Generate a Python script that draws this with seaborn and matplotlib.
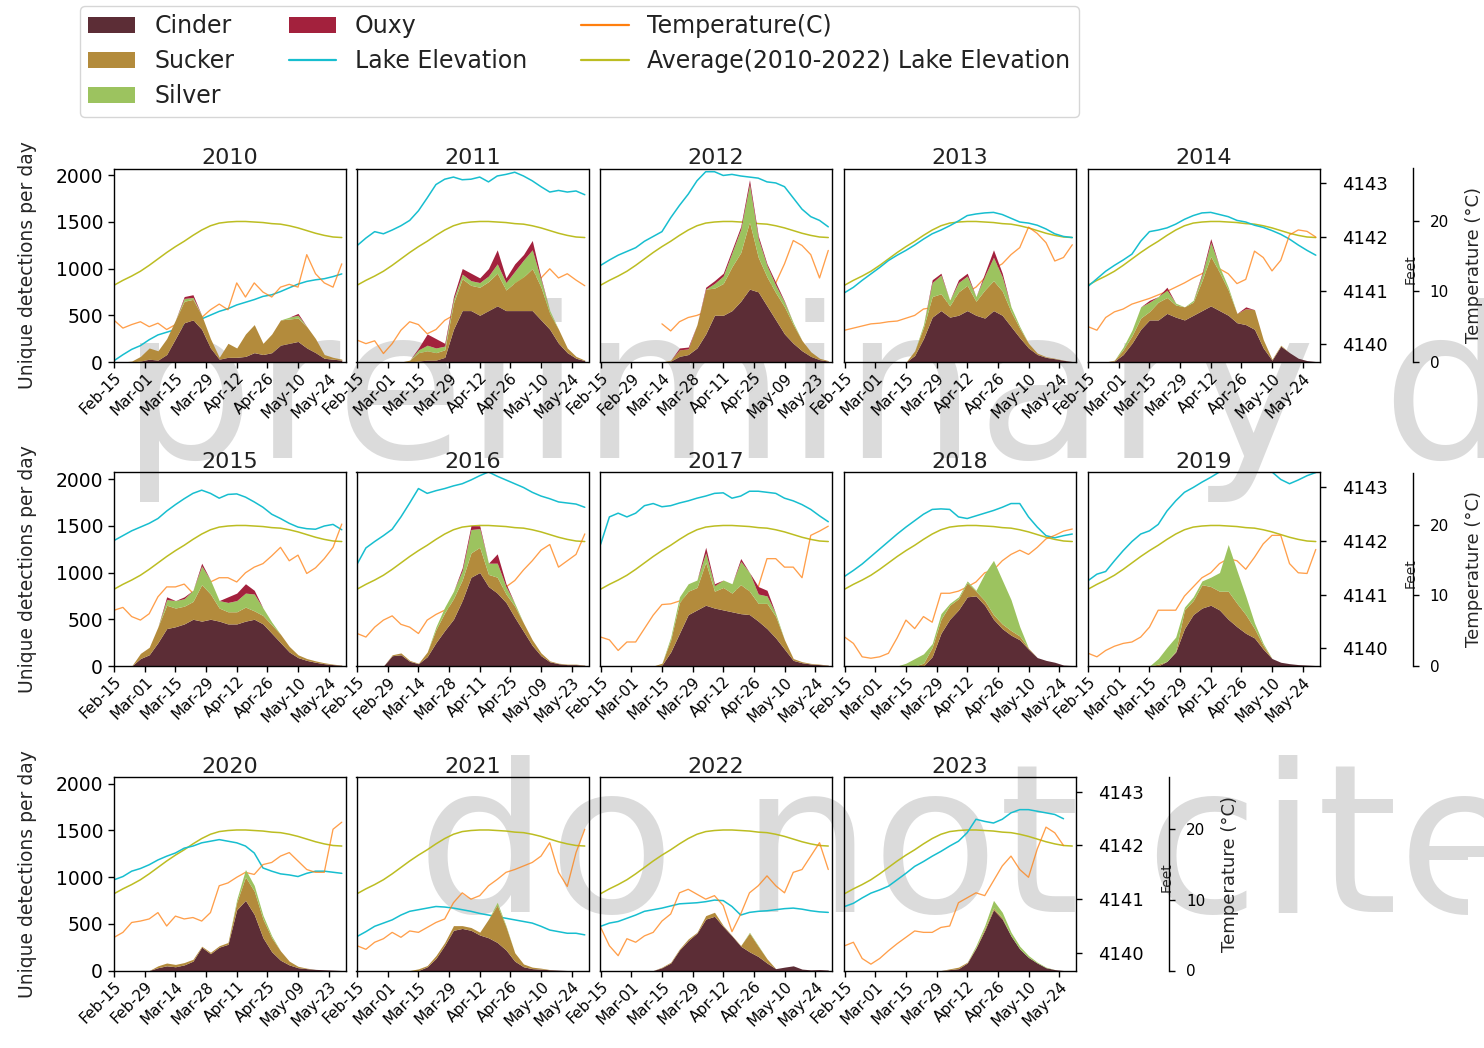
import numpy as np
import pandas as pd
import matplotlib
matplotlib.use("Agg")
import matplotlib.pyplot as plt
import matplotlib.dates as mdates
import matplotlib.ticker as mticker
from matplotlib.patches import Patch, Rectangle
from matplotlib.lines import Line2D
import seaborn as sns

nan = np.nan

# Sampling days after Feb-15 (every 4 days)
DAY_OFFSETS = list(range(0, 105, 4))

# 2010-2022 average lake elevation (feet)
AVG_ELEV_FT = [4141.10, 4141.19, 4141.27, 4141.36, 4141.47, 4141.59, 4141.71, 4141.82, 4141.92,
               4142.03, 4142.13, 4142.21, 4142.26, 4142.28, 4142.29, 4142.29, 4142.28, 4142.27,
               4142.25, 4142.24, 4142.21, 4142.17, 4142.12, 4142.07, 4142.03, 4142.00, 4141.99]

# ---- 2010 ----
CINDER_2010 = [0, 0, 0, 10, 30, 20, 80, 250, 420, 450, 350, 150, 30, 50, 50, 60, 100, 80, 100, 180, 200, 220, 150, 100, 40, 30, 20]
SUCKER_2010 = [0, 0, 10, 50, 120, 100, 170, 200, 230, 220, 150, 100, 20, 150, 100, 240, 300, 120, 200, 270, 260, 250, 230, 150, 40, 20, 10]
SILVER_2010 = [0, 0, 0, 0, 0, 0, 0, 0, 30, 20, 0, 0, 0, 0, 0, 0, 0, 0, 0, 0, 20, 30, 0, 0, 0, 0, 0]
OUXY_2010 = [0, 0, 0, 0, 0, 0, 0, 0, 20, 30, 0, 0, 0, 0, 0, 0, 0, 0, 0, 0, 0, 20, 0, 0, 0, 0, 0]
ELEV_2010 = [4139.69, 4139.80, 4139.90, 4139.97, 4140.08, 4140.17, 4140.22, 4140.27, 4140.34, 4140.40, 4140.47, 4140.54, 4140.61, 4140.66,
             4140.73, 4140.78, 4140.83, 4140.89, 4140.92, 4140.98, 4141.05, 4141.12, 4141.17, 4141.20, 4141.22, 4141.26, 4141.31]
TEMP_2010 = [5.9, 4.8, 5.3, 5.7, 5.0, 5.5, 4.6, 5.3, 6.2, 5.7, 6.3, 7.4, 8.2, 7.4, 11.2, 9.2, 11.2, 9.9, 9.2, 10.6, 11.0, 10.6, 15.2, 12.5, 11.2, 10.6, 13.9]

# ---- 2011 ----
CINDER_2011 = [0, 0, 0, 0, 0, 0, 0, 10, 20, 20, 50, 350, 550, 550, 500, 550, 600, 550, 550, 550, 550, 450, 350, 200, 100, 40, 15]
SUCKER_2011 = [0, 0, 0, 0, 0, 0, 20, 90, 100, 80, 80, 280, 340, 270, 300, 310, 350, 220, 300, 360, 450, 350, 170, 150, 50, 20, 5]
SILVER_2011 = [0, 0, 0, 0, 0, 0, 0, 30, 60, 50, 40, 40, 50, 50, 50, 60, 100, 80, 120, 180, 200, 80, 30, 0, 0, 0, 0]
OUXY_2011 = [0, 0, 0, 0, 0, 0, 0, 20, 120, 100, 30, 30, 60, 80, 50, 80, 150, 50, 80, 60, 100, 20, 0, 0, 0, 0, 0]
ELEV_2011 = [4141.84, 4141.98, 4142.10, 4142.06, 4142.13, 4142.21, 4142.31, 4142.49, 4142.73, 4142.98, 4143.08, 4143.12, 4143.07, 4143.08,
             4143.12, 4143.03, 4143.14, 4143.17, 4143.21, 4143.14, 4143.05, 4142.94, 4142.84, 4142.87, 4142.84, 4142.86, 4142.79]
TEMP_2011 = [3.1, 2.6, 3.0, 1.2, 2.6, 4.5, 5.7, 5.3, 4.0, 4.6, 5.9, 6.6, 7.9, 8.6, 9.2, 9.2, 9.9, 10.6, 11.2, 11.9, 12.5, 11.9, 13.2, 11.9, 12.5, 11.6, 10.8]

# ---- 2012 ----
CINDER_2012 = [0, 0, 0, 0, 0, 0, 0, 0, 10, 60, 80, 150, 300, 500, 500, 550, 650, 780, 750, 600, 450, 300, 200, 120, 60, 25, 10]
SUCKER_2012 = [0, 0, 0, 0, 0, 0, 0, 0, 10, 70, 60, 250, 480, 290, 340, 470, 520, 720, 370, 310, 290, 290, 200, 110, 50, 15, 5]
SILVER_2012 = [0, 0, 0, 0, 0, 0, 0, 0, 0, 0, 0, 0, 0, 50, 80, 150, 250, 400, 200, 120, 80, 50, 20, 0, 0, 0, 0]
OUXY_2012 = [0, 0, 0, 0, 0, 0, 0, 0, 0, 20, 20, 0, 20, 30, 30, 30, 30, 50, 30, 20, 30, 10, 0, 0, 0, 0, 0]
ELEV_2012 = [4141.47, 4141.57, 4141.66, 4141.73, 4141.80, 4141.92, 4142.01, 4142.10, 4142.36, 4142.59, 4142.80, 4143.05, 4143.22, 4143.22,
             4143.15, 4143.17, 4143.14, 4143.12, 4143.10, 4143.03, 4143.01, 4142.94, 4142.73, 4142.52, 4142.38, 4142.31, 4142.19]
TEMP_2012 = [nan, nan, nan, nan, nan, nan, nan, 5.4, 4.4, 5.7, 6.3, 6.6, 7.1, 7.7, 7.9, 8.6, 9.2, 9.2, 9.9, 10.6, 11.2, 13.9, 17.2, 16.5, 15.2, 11.9, 15.8]

# ---- 2013 ----
CINDER_2013 = [0, 0, 0, 0, 0, 0, 0, 0, 70, 250, 480, 550, 480, 500, 550, 500, 470, 550, 500, 380, 260, 150, 80, 50, 35, 18, 5]
SUCKER_2013 = [0, 0, 0, 0, 0, 0, 0, 0, 50, 120, 220, 180, 120, 250, 270, 150, 300, 320, 260, 160, 100, 50, 15, 7, 5, 2, 0]
SILVER_2013 = [0, 0, 0, 0, 0, 0, 0, 0, 0, 30, 150, 200, 60, 100, 100, 50, 150, 250, 150, 50, 20, 0, 0, 0, 0, 0, 0]
OUXY_2013 = [0, 0, 0, 0, 0, 0, 0, 0, 0, 0, 30, 20, 0, 30, 30, 0, 30, 80, 40, 0, 0, 0, 0, 0, 0, 0, 0]
ELEV_2013 = [4140.96, 4141.06, 4141.19, 4141.31, 4141.43, 4141.56, 4141.66, 4141.75, 4141.85, 4141.96, 4142.06, 4142.13, 4142.21, 4142.30,
             4142.40, 4142.43, 4142.45, 4142.46, 4142.42, 4142.35, 4142.28, 4142.26, 4142.22, 4142.15, 4142.06, 4142.01, 4141.99]
TEMP_2013 = [4.5, 4.8, 5.1, 5.4, 5.5, 5.7, 5.8, 6.2, 6.6, 7.5, 7.7, 7.9, 8.6, 9.2, 9.9, 10.6, 11.9, 13.2, 13.9, 15.2, 16.2, 19.1, 18.2, 16.9, 14.3, 14.8, 16.6]

# ---- 2014 ----
CINDER_2014 = [0, 0, 0, 10, 80, 200, 350, 450, 450, 520, 480, 450, 500, 550, 600, 550, 500, 420, 400, 350, 150, 20, 170, 100, 40, 15, 5]
SUCKER_2014 = [0, 0, 0, 10, 50, 80, 120, 90, 190, 170, 130, 140, 140, 320, 530, 410, 270, 100, 170, 210, 90, 10, 10, 0, 0, 0, 0]
SILVER_2014 = [0, 0, 0, 0, 30, 60, 120, 100, 60, 80, 20, 0, 20, 60, 150, 60, 30, 0, 0, 0, 0, 0, 0, 0, 0, 0, 0]
OUXY_2014 = [0, 0, 0, 0, 0, 0, 0, 20, 0, 30, 0, 0, 0, 20, 40, 0, 0, 0, 20, 0, 0, 0, 0, 0, 0, 0, 0]
ELEV_2014 = [4141.08, 4141.22, 4141.36, 4141.47, 4141.57, 4141.68, 4141.92, 4142.10, 4142.13, 4142.17, 4142.24, 4142.33, 4142.40, 4142.45,
             4142.46, 4142.42, 4142.38, 4142.31, 4142.28, 4142.22, 4142.18, 4142.12, 4142.05, 4141.96, 4141.85, 4141.75, 4141.66]
TEMP_2014 = [5.0, 4.5, 6.3, 7.1, 7.5, 8.2, 8.6, 9.0, 9.5, 10.0, 10.6, 11.2, 11.9, 12.5, 13.2, 13.2, 12.5, 11.1, 11.7, 15.7, 14.8, 12.9, 14.4, 18.0, 18.7, 18.5, 17.7]

# ---- 2015 ----
CINDER_2015 = [0, 0, 0, 80, 120, 250, 400, 420, 450, 500, 480, 500, 480, 450, 450, 480, 500, 450, 350, 250, 150, 90, 60, 40, 25, 15, 8]
SUCKER_2015 = [0, 0, 0, 55, 80, 170, 250, 200, 190, 190, 390, 270, 140, 130, 130, 150, 90, 90, 90, 90, 60, 30, 20, 15, 10, 5, 2]
SILVER_2015 = [0, 0, 0, 0, 0, 0, 60, 80, 80, 120, 200, 150, 80, 100, 120, 150, 180, 80, 30, 0, 0, 0, 0, 0, 0, 0, 0]
OUXY_2015 = [0, 0, 0, 0, 0, 0, 30, 0, 20, 0, 30, 0, 0, 60, 80, 100, 40, 0, 0, 0, 0, 0, 0, 0, 0, 0, 0]
ELEV_2015 = [4142.01, 4142.10, 4142.19, 4142.26, 4142.33, 4142.42, 4142.56, 4142.68, 4142.79, 4142.89, 4142.95, 4142.89, 4142.80, 4142.87,
             4142.88, 4142.82, 4142.73, 4142.63, 4142.50, 4142.42, 4142.33, 4142.26, 4142.23, 4142.22, 4142.28, 4142.31, 4142.21]
TEMP_2015 = [7.9, 8.3, 7.0, 6.5, 7.4, 9.8, 11.2, 11.2, 11.6, 10.3, 12.1, 11.9, 12.5, 12.5, 11.9, 13.2, 14.0, 14.5, 15.6, 16.8, 14.9, 15.7, 13.1, 13.9, 15.2, 16.8, 20.1]

# ---- 2016 ----
CINDER_2016 = [0, 0, 0, 0, 110, 120, 50, 25, 100, 250, 380, 500, 700, 950, 1000, 850, 780, 680, 520, 370, 220, 110, 45, 25, 15, 15, 8]
SUCKER_2016 = [0, 0, 0, 0, 10, 20, 10, 5, 50, 140, 190, 220, 220, 260, 270, 130, 170, 90, 120, 90, 60, 30, 10, 5, 5, 5, 2]
SILVER_2016 = [0, 0, 0, 0, 0, 0, 0, 0, 0, 30, 60, 80, 100, 250, 200, 120, 150, 80, 30, 0, 0, 0, 0, 0, 0, 0, 0]
OUXY_2016 = [0, 0, 0, 0, 0, 0, 0, 0, 0, 0, 0, 0, 30, 40, 30, 0, 100, 30, 0, 0, 0, 0, 0, 0, 0, 0, 0]
ELEV_2016 = [4141.57, 4141.87, 4141.99, 4142.10, 4142.22, 4142.45, 4142.71, 4142.98, 4142.89, 4142.94, 4142.98, 4143.03, 4143.07, 4143.14,
             4143.22, 4143.29, 4143.21, 4143.14, 4143.07, 4143.00, 4142.91, 4142.84, 4142.79, 4142.73, 4142.71, 4142.69, 4142.63]
TEMP_2016 = [4.6, 4.1, 5.5, 6.5, 7.1, 5.9, 5.5, 4.6, 6.5, 7.3, 7.9, 8.6, 9.2, 9.2, 9.9, 9.9, 10.6, 11.2, 12.1, 13.6, 14.9, 16.4, 17.2, 14.0, 14.9, 15.8, 18.7]

# ---- 2017 ----
CINDER_2017 = [0, 0, 0, 0, 0, 0, 0, 10, 150, 350, 550, 600, 650, 620, 600, 580, 560, 550, 480, 400, 300, 180, 60, 35, 22, 15, 8]
SUCKER_2017 = [0, 0, 0, 0, 0, 0, 0, 20, 130, 330, 250, 240, 460, 180, 240, 200, 310, 250, 190, 270, 230, 100, 20, 11, 6, 5, 2]
SILVER_2017 = [0, 0, 0, 0, 0, 0, 0, 0, 30, 60, 80, 80, 100, 60, 80, 100, 250, 200, 100, 80, 30, 0, 0, 0, 0, 0, 0]
OUXY_2017 = [0, 0, 0, 0, 0, 0, 0, 0, 0, 0, 0, 0, 60, 20, 0, 0, 30, 0, 80, 60, 0, 0, 0, 0, 0, 0, 0]
ELEV_2017 = [4141.94, 4142.45, 4142.52, 4142.45, 4142.52, 4142.66, 4142.70, 4142.64, 4142.66, 4142.71, 4142.75, 4142.80, 4142.84, 4142.89,
             4142.90, 4142.80, 4142.84, 4142.93, 4142.93, 4142.91, 4142.89, 4142.80, 4142.75, 4142.68, 4142.59, 4142.47, 4142.36]
TEMP_2017 = [4.1, 3.7, 2.2, 3.4, 3.4, 5.3, 7.2, 8.7, 8.8, 9.2, 9.9, 10.6, 11.2, 11.2, 11.9, 11.2, 10.6, 10.6, 11.2, 15.2, 15.2, 14.0, 14.0, 12.5, 18.5, 19.1, 19.8]

# ---- 2018 ----
CINDER_2018 = [0, 0, 0, 0, 0, 0, 0, 0, 0, 0, 100, 350, 500, 600, 740, 750, 650, 500, 400, 330, 280, 180, 90, 60, 40, 10, 5]
SUCKER_2018 = [0, 0, 0, 0, 0, 0, 0, 10, 0, 30, 100, 150, 150, 120, 150, 50, 50, 50, 50, 50, 40, 10, 0, 0, 0, 0, 0]
SILVER_2018 = [0, 0, 0, 0, 0, 0, 0, 20, 80, 100, 40, 60, 20, 20, 20, 10, 290, 580, 470, 330, 100, 0, 0, 0, 0, 0, 0]
OUXY_2018 = [0, 0, 0, 0, 0, 0, 0, 0, 0, 0, 0, 0, 0, 0, 0, 0, 0, 0, 0, 0, 0, 0, 0, 0, 0, 0, 0]
ELEV_2018 = [4141.34, 4141.45, 4141.57, 4141.71, 4141.85, 4141.99, 4142.13, 4142.26, 4142.38, 4142.50, 4142.59, 4142.60, 4142.59, 4142.45,
             4142.42, 4142.47, 4142.52, 4142.57, 4142.63, 4142.70, 4142.70, 4142.45, 4142.26, 4142.10, 4142.06, 4142.10, 4142.13]
TEMP_2018 = [4.1, 3.2, 1.3, 1.1, 1.3, 1.8, 4.0, 6.5, 5.3, 7.0, 6.2, 10.3, 10.3, 10.6, 11.2, 11.9, 13.2, 13.6, 14.9, 15.8, 16.4, 15.8, 16.8, 18.0, 18.5, 19.1, 19.4]

# ---- 2019 ----
CINDER_2019 = [0, 0, 0, 0, 0, 0, 0, 0, 0, 50, 150, 400, 550, 620, 650, 600, 500, 420, 350, 300, 180, 80, 40, 25, 15, 10, 5]
SUCKER_2019 = [0, 0, 0, 0, 0, 0, 0, 0, 20, 0, 10, 200, 150, 250, 200, 200, 300, 250, 200, 100, 40, 0, 0, 0, 0, 0, 0]
SILVER_2019 = [0, 0, 0, 0, 0, 0, 0, 0, 60, 150, 150, 30, 40, 40, 100, 200, 500, 350, 200, 60, 20, 0, 0, 0, 0, 0, 0]
OUXY_2019 = [0, 0, 0, 0, 0, 0, 0, 0, 0, 0, 0, 0, 0, 0, 0, 0, 0, 0, 0, 0, 0, 0, 0, 0, 0, 0, 0]
ELEV_2019 = [4141.26, 4141.38, 4141.43, 4141.63, 4141.82, 4141.99, 4142.13, 4142.19, 4142.31, 4142.56, 4142.75, 4142.91, 4143.00, 4143.10,
             4143.19, 4143.29, 4143.33, 4143.36, 4143.36, 4143.35, 4143.33, 4143.29, 4143.15, 4143.07, 4143.14, 4143.22, 4143.28]
TEMP_2019 = [1.8, 1.3, 2.2, 2.8, 3.2, 3.4, 4.1, 5.5, 7.9, 7.9, 7.9, 9.9, 11.2, 12.5, 13.2, 14.5, 15.2, 14.9, 13.7, 15.4, 17.3, 18.5, 18.5, 14.5, 13.2, 13.1, 16.5]

# ---- 2020 ----
CINDER_2020 = [0, 0, 0, 0, 0, 30, 50, 40, 60, 100, 250, 180, 250, 280, 650, 750, 600, 350, 200, 110, 60, 30, 20, 12, 8, 4, 0]
SUCKER_2020 = [0, 0, 0, 0, 0, 20, 30, 25, 25, 20, 10, 15, 15, 20, 80, 250, 250, 200, 150, 100, 40, 15, 5, 0, 0, 0, 0]
SILVER_2020 = [0, 0, 0, 0, 0, 0, 0, 0, 0, 0, 0, 0, 0, 0, 30, 80, 60, 40, 20, 0, 0, 0, 0, 0, 0, 0, 0]
OUXY_2020 = [0, 0, 0, 0, 0, 0, 0, 0, 0, 0, 0, 0, 0, 0, 0, 0, 0, 0, 0, 0, 0, 0, 0, 0, 0, 0, 0]
ELEV_2020 = [4141.36, 4141.42, 4141.52, 4141.57, 4141.64, 4141.73, 4141.80, 4141.86, 4141.95, 4141.99, 4142.05, 4142.08, 4142.11, 4142.08,
             4142.05, 4141.99, 4141.86, 4141.58, 4141.52, 4141.47, 4141.45, 4141.42, 4141.48, 4141.52, 4141.52, 4141.50, 4141.48]
TEMP_2020 = [4.7, 5.4, 6.8, 7.0, 7.3, 8.2, 6.3, 7.7, 7.3, 7.5, 7.0, 8.2, 12.0, 12.4, 13.2, 13.9, 13.6, 15.0, 15.3, 16.2, 16.7, 15.5, 14.3, 13.9, 13.9, 20.0, 21.0]

# ---- 2021 ----
CINDER_2021 = [0, 0, 0, 0, 0, 0, 0, 0, 40, 130, 270, 430, 450, 430, 380, 350, 300, 220, 100, 40, 20, 15, 8, 4, 0, 0, 0]
SUCKER_2021 = [0, 0, 0, 0, 0, 0, 0, 18, 13, 30, 30, 50, 30, 30, 30, 200, 400, 250, 90, 30, 16, 10, 2, 0, 0, 0, 0]
SILVER_2021 = [0, 0, 0, 0, 0, 0, 0, 0, 0, 0, 0, 0, 0, 0, 0, 0, 30, 10, 0, 0, 0, 0, 0, 0, 0, 0, 0]
OUXY_2021 = [0, 0, 0, 0, 0, 0, 0, 0, 0, 0, 0, 0, 0, 0, 0, 0, 0, 0, 0, 0, 0, 0, 0, 0, 0, 0, 0]
ELEV_2021 = [4140.30, 4140.39, 4140.49, 4140.55, 4140.61, 4140.70, 4140.77, 4140.80, 4140.83, 4140.86, 4140.85, 4140.83, 4140.80, 4140.77,
             4140.73, 4140.70, 4140.67, 4140.64, 4140.61, 4140.58, 4140.55, 4140.49, 4140.42, 4140.39, 4140.36, 4140.36, 4140.33]
TEMP_2021 = [3.5, 3.0, 4.0, 4.5, 5.4, 4.7, 5.6, 5.4, 6.1, 6.8, 7.3, 9.6, 11.0, 10.1, 10.6, 12.0, 12.9, 13.9, 14.3, 14.8, 15.3, 16.2, 18.1, 13.9, 11.9, 16.7, 20.0]

# ---- 2022 ----
CINDER_2022 = [0, 0, 0, 0, 0, 0, 0, 30, 80, 220, 320, 400, 550, 580, 470, 370, 260, 200, 150, 80, 20, 36, 50, 15, 7, 10, 5]
SUCKER_2022 = [0, 0, 0, 0, 0, 0, 0, 6, 9, 11, 18, 9, 37, 43, 11, 4, 7, 200, 110, 45, 0, 0, 0, 0, 0, 0, 0]
SILVER_2022 = [0, 0, 0, 0, 0, 0, 0, 0, 0, 0, 0, 0, 0, 0, 0, 0, 0, 9, 7, 0, 0, 0, 0, 0, 0, 0, 0]
OUXY_2022 = [0, 0, 0, 0, 0, 0, 0, 0, 0, 0, 0, 0, 0, 0, 0, 0, 0, 0, 0, 0, 0, 0, 0, 0, 0, 0, 0]
ELEV_2022 = [4140.49, 4140.55, 4140.58, 4140.64, 4140.70, 4140.77, 4140.80, 4140.83, 4140.87, 4140.91, 4140.92, 4140.93, 4140.95, 4140.98,
             4140.97, 4140.86, 4140.70, 4140.75, 4140.77, 4140.78, 4140.80, 4140.82, 4140.83, 4140.81, 4140.78, 4140.76, 4140.75]
TEMP_2022 = [6.1, 3.5, 2.1, 4.5, 4.0, 4.9, 5.4, 7.0, 8.0, 11.0, 11.5, 10.8, 10.1, 10.6, 9.2, 5.5, 8.0, 11.0, 12.0, 13.4, 12.0, 11.0, 13.9, 14.3, 16.2, 18.1, 14.3]

# ---- 2023 ----
CINDER_2023 = [0, 0, 0, 0, 0, 0, 0, 0, 0, 0, 0, 0, 10, 20, 80, 240, 430, 650, 550, 370, 230, 140, 80, 30, 10, 0, 0]
SUCKER_2023 = [0, 0, 0, 0, 0, 0, 0, 0, 0, 0, 0, 0, 8, 16, 9, 7, 21, 20, 13, 0, 0, 0, 0, 0, 0, 0, 0]
SILVER_2023 = [0, 0, 0, 0, 0, 0, 0, 0, 0, 0, 0, 0, 0, 0, 0, 20, 30, 80, 60, 40, 30, 20, 9, 6, 0, 0, 0]
OUXY_2023 = [0, 0, 0, 0, 0, 0, 0, 0, 0, 0, 0, 0, 0, 0, 0, 0, 0, 0, 0, 0, 0, 0, 0, 0, 0, 0, 0]
ELEV_2023 = [4140.86, 4140.92, 4141.02, 4141.11, 4141.17, 4141.24, 4141.36, 4141.48, 4141.61, 4141.70, 4141.80, 4141.89, 4141.99, 4142.08,
             4142.24, 4142.49, 4142.45, 4142.42, 4142.49, 4142.61, 4142.67, 4142.67, 4142.64, 4142.61, 4142.58, 4142.50, nan]
TEMP_2023 = [3.5, 4.0, 1.7, 0.9, 1.7, 2.8, 3.8, 4.7, 5.6, 5.4, 5.4, 6.1, 6.3, 9.6, 10.3, 11.0, 10.6, 12.7, 14.8, 16.2, 14.3, 13.2, 17.2, 20.3, 19.5, 17.7, nan]

YEARS = list(range(2010, 2024))
PANELS = {
    2010: (CINDER_2010, SUCKER_2010, SILVER_2010, OUXY_2010, ELEV_2010, TEMP_2010),
    2011: (CINDER_2011, SUCKER_2011, SILVER_2011, OUXY_2011, ELEV_2011, TEMP_2011),
    2012: (CINDER_2012, SUCKER_2012, SILVER_2012, OUXY_2012, ELEV_2012, TEMP_2012),
    2013: (CINDER_2013, SUCKER_2013, SILVER_2013, OUXY_2013, ELEV_2013, TEMP_2013),
    2014: (CINDER_2014, SUCKER_2014, SILVER_2014, OUXY_2014, ELEV_2014, TEMP_2014),
    2015: (CINDER_2015, SUCKER_2015, SILVER_2015, OUXY_2015, ELEV_2015, TEMP_2015),
    2016: (CINDER_2016, SUCKER_2016, SILVER_2016, OUXY_2016, ELEV_2016, TEMP_2016),
    2017: (CINDER_2017, SUCKER_2017, SILVER_2017, OUXY_2017, ELEV_2017, TEMP_2017),
    2018: (CINDER_2018, SUCKER_2018, SILVER_2018, OUXY_2018, ELEV_2018, TEMP_2018),
    2019: (CINDER_2019, SUCKER_2019, SILVER_2019, OUXY_2019, ELEV_2019, TEMP_2019),
    2020: (CINDER_2020, SUCKER_2020, SILVER_2020, OUXY_2020, ELEV_2020, TEMP_2020),
    2021: (CINDER_2021, SUCKER_2021, SILVER_2021, OUXY_2021, ELEV_2021, TEMP_2021),
    2022: (CINDER_2022, SUCKER_2022, SILVER_2022, OUXY_2022, ELEV_2022, TEMP_2022),
    2023: (CINDER_2023, SUCKER_2023, SILVER_2023, OUXY_2023, ELEV_2023, TEMP_2023),
}

SPECIES = ["Cinder", "Sucker", "Silver", "Ouxy"]
SPECIES_COLORS = ["#5c2d36", "#b38b3c", "#9cc35f", "#a3213d"]
ELEV_COLOR = "#17becf"
AVG_COLOR = "#bcbd22"
TEMP_COLOR = "#ff7f0e"

sns.set_theme(style="ticks")
plt.rcParams["font.family"] = ["DejaVu Sans"]
plt.rcParams["axes.edgecolor"] = "black"
plt.rcParams["axes.linewidth"] = 1.0
plt.rcParams["xtick.color"] = "black"
plt.rcParams["ytick.color"] = "black"
plt.rcParams["text.color"] = "#222222"

W, H = 1484, 1048
fig = plt.figure(figsize=(W / 100, H / 100), dpi=100)

COL_LEFT = [113.5, 356.5, 600, 844, 1087.5]
ROW_TOP = [168.5, 472.5, 777]
AX_W, AX_H = 232, 193.5


def px_rect(left, top):
    return [left / W, 1 - (top + AX_H) / H, AX_W / W, AX_H / H]


for i, year in enumerate(YEARS):
    row, col = divmod(i, 5)
    first_col = col == 0
    last_col = col == 4 or year == YEARS[-1]
    cinder, sucker, silver, ouxy, elev, temp = PANELS[year]

    start = pd.Timestamp(year=year, month=2, day=15)
    dates = start + pd.to_timedelta(DAY_OFFSETS, unit="D")
    xnum = mdates.date2num(dates.to_pydatetime())
    frame = pd.DataFrame({"x": xnum, "elev": elev, "avg": AVG_ELEV_FT, "temp": temp})

    ax = fig.add_axes(px_rect(COL_LEFT[col], ROW_TOP[row]))
    ax_ft = ax.twinx()
    ax_t = ax.twinx()

    sns.lineplot(data=frame, x="x", y="avg", ax=ax_ft, color=AVG_COLOR, lw=1.1)
    sns.lineplot(data=frame, x="x", y="elev", ax=ax_ft, color=ELEV_COLOR, lw=1.1)
    sns.lineplot(data=frame, x="x", y="temp", ax=ax_t, color=TEMP_COLOR, lw=0.95, alpha=0.75)
    ax.stackplot(xnum, cinder, sucker, silver, ouxy, colors=SPECIES_COLORS, lw=0)

    # detections drawn above the lines
    ax_ft.set_zorder(1)
    ax_t.set_zorder(2)
    ax.set_zorder(3)
    ax.patch.set_visible(False)

    ax.set_ylim(0, 2070)
    ax_ft.set_ylim(4139.664, 4143.28)
    ax_t.set_ylim(0, 27.4)
    ax.set_xlim(xnum[0] - 0.3, xnum[0] + 105.7)

    ax.set_xticks(xnum[0] + np.arange(0, 99, 14))
    ax.xaxis.set_major_formatter(mdates.DateFormatter("%b-%d"))
    ax.tick_params(axis="x", labelsize=11, length=4, width=1, pad=2)
    plt.setp(ax.get_xticklabels(), rotation=45, ha="right", rotation_mode="anchor")
    ax.set_xlabel("")
    ax.set_title(str(year), fontsize=16, pad=3)

    ax.set_yticks([0, 500, 1000, 1500, 2000])
    if first_col:
        ax.tick_params(axis="y", labelsize=13.5, length=4, width=1)
        ax.set_ylabel("Unique detections per day", fontsize=13.5)
        ax.yaxis.set_label_coords(-0.33, 0.5)
    else:
        ax.tick_params(axis="y", left=False, labelleft=False)
        ax.set_ylabel("")

    for side in ["left", "right", "top", "bottom"]:
        ax_ft.spines[side].set_visible(False)
        ax_t.spines[side].set_visible(False)
    ax_ft.set_xlabel("")
    ax_t.set_xlabel("")

    if last_col:
        ax_ft.set_yticks([4140, 4141, 4142, 4143])
        ax_ft.yaxis.set_major_formatter(mticker.FormatStrFormatter("%d"))
        ax_ft.tick_params(axis="y", labelsize=13, length=4, width=1, pad=12)
        ax_ft.set_ylabel("Feet", fontsize=10)
        ax_ft.yaxis.set_label_coords(1.362, 0.48)

        ax_t.spines["right"].set_visible(True)
        ax_t.spines["right"].set_position(("axes", 1.403))
        ax_t.set_yticks([0, 10, 20])
        ax_t.tick_params(axis="y", labelsize=11, length=4, width=1, pad=8)
        ax_t.set_ylabel("Temperature (°C)", fontsize=13)
        ax_t.yaxis.set_label_coords(1.627, 0.5)
    else:
        ax_ft.tick_params(axis="y", right=False, labelright=False)
        ax_t.tick_params(axis="y", right=False, labelright=False)
        ax_ft.set_ylabel("")
        ax_t.set_ylabel("")

handles = [Patch(facecolor=c, edgecolor="none", label=s) for s, c in zip(SPECIES, SPECIES_COLORS)]
handles += [
    Line2D([0], [0], color=ELEV_COLOR, lw=1.6, label="Lake Elevation"),
    Line2D([0], [0], color=TEMP_COLOR, lw=1.6, label="Temperature(C)"),
    Line2D([0], [0], color=AVG_COLOR, lw=1.6, label="Average(2010-2022) Lake Elevation"),
]
fig.legend(handles=handles, loc="upper left", bbox_to_anchor=(80 / W, 1 - 6 / H), ncol=3,
           fontsize=17, frameon=True, fancybox=True, edgecolor="0.8", framealpha=0.8,
           borderaxespad=0, labelspacing=0.47, borderpad=0.35, columnspacing=2.3)

# watermark, behind the panels
fig.text(121 / W, 1 - 458 / H, "preliminary data", fontsize=151, color="0.5", alpha=0.28,
         ha="left", va="baseline", zorder=0.5)
fig.text(417 / W, 1 - 912 / H, "do not cite", fontsize=149, color="0.5", alpha=0.28,
         ha="left", va="baseline", zorder=0.5)
fig.add_artist(Rectangle((1468 / W, 1 - 1022 / H), 16 / W, 165 / H, transform=fig.transFigure,
                         facecolor="white", edgecolor="none", zorder=0.6))

fig.savefig("out.png", dpi=100)
